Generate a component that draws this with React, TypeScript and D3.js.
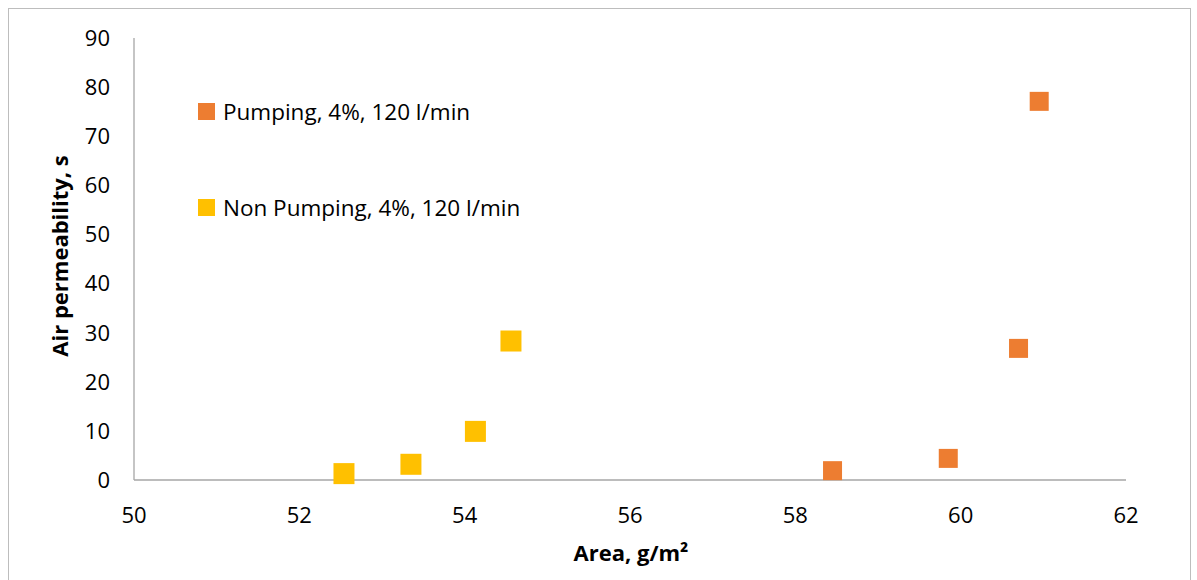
import React from "react";
import * as d3 from "d3";

const pumpingX = [58.45, 59.85, 60.7, 60.95];
const pumpingY = [1.9, 4.4, 26.8, 77.1];
const nonPumpingX = [52.54, 53.35, 54.13, 54.56];
const nonPumpingY = [1.3, 3.2, 9.9, 28.3];
const xTicks = [50, 52, 54, 56, 58, 60, 62];
const yTicks = [0, 10, 20, 30, 40, 50, 60, 70, 80, 90];
const seriesNames = ["Pumping, 4%, 120 l/min", "Non Pumping, 4%, 120 l/min"];
const seriesColors = ["#ED7D31", "#FFC000"];

const W = 1197;
const H = 580;
const FONT = "'Open Sans', 'DejaVu Sans', sans-serif";

export default function App() {
  const x = d3.scaleLinear().domain([50, 62]).range([134, 1126]);
  const y = d3.scaleLinear().domain([0, 90]).range([480, 38]);
  const axisColor = "#a6a6a6";

  const pumping = pumpingX.map((v, i) => ({ x: v, y: pumpingY[i] }));
  const nonPumping = nonPumpingX.map((v, i) => ({ x: v, y: nonPumpingY[i] }));
  const sqOrange = 19;
  const sqYellow = 21;

  return (
    <>
      <style>{`body{margin:0;overflow:hidden}`}</style>
      <svg width={W} height={H} style={{ display: "block" }} fontFamily={FONT}>
        <rect x={0} y={0} width={W} height={H} fill="#fff" />
        <rect x={8.5} y={8.5} width={1182} height={H + 20} fill="none" stroke="#bdbdbd" strokeWidth={1} />
        {/* axes */}
        <line x1={x(50)} x2={x(50)} y1={y(90)} y2={y(0)} stroke={axisColor} strokeWidth={1.3} />
        <line x1={x(50)} x2={x(62)} y1={y(0)} y2={y(0)} stroke={axisColor} strokeWidth={1.3} />
        {yTicks.map((t) => (
          <text key={"y" + t} x={110} y={y(t)} dy="0.36em" textAnchor="end" fontSize={22} fill="#000">
            {t}
          </text>
        ))}
        {xTicks.map((t) => (
          <text key={"x" + t} x={x(t)} y={523} textAnchor="middle" fontSize={22} fill="#000">
            {t}
          </text>
        ))}
        <text x={631} y={561} textAnchor="middle" fontSize={22} fontWeight="bold" fill="#000">
          Area, g/m²
        </text>
        <text
          transform={`translate(68,256) rotate(-90)`}
          textAnchor="middle"
          fontSize={22}
          fontWeight="bold"
          fill="#000"
        >
          Air permeability, s
        </text>
        {nonPumping.map((d, i) => (
          <rect
            key={"n" + i}
            x={x(d.x) - sqYellow / 2}
            y={y(d.y) - sqYellow / 2}
            width={sqYellow}
            height={sqYellow}
            fill={seriesColors[1]}
          />
        ))}
        {pumping.map((d, i) => (
          <rect
            key={"p" + i}
            x={x(d.x) - sqOrange / 2}
            y={y(d.y) - sqOrange / 2}
            width={sqOrange}
            height={sqOrange}
            fill={seriesColors[0]}
          />
        ))}
        {/* legend */}
        {seriesNames.map((name, i) => (
          <g key={name} transform={`translate(198,${103 + i * 96})`}>
            <rect x={0} y={0} width={17} height={17} fill={seriesColors[i]} />
            <text x={25} y={17} fontSize={22.5} fill="#000">
              {name}
            </text>
          </g>
        ))}
      </svg>
    </>
  );
}
